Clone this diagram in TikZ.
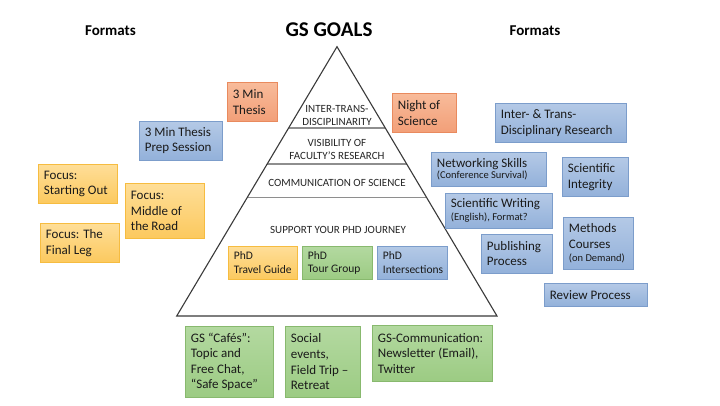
\documentclass[tikz,border=0pt]{standalone}
\usepackage{fontspec}
\setmainfont{Carlito}
\usetikzlibrary{calc}
\definecolor{oT}{HTML}{FEDE98}
\definecolor{oB}{HTML}{FCC95E}
\definecolor{oD}{HTML}{F6BC40}
\definecolor{gT}{HTML}{B3D9A0}
\definecolor{gB}{HTML}{9CCB83}
\definecolor{gD}{HTML}{88B96E}
\definecolor{bT}{HTML}{B4C9E6}
\definecolor{bB}{HTML}{93B1DA}
\definecolor{bD}{HTML}{7C9DCB}
\definecolor{sT}{HTML}{F8BB9A}
\definecolor{sB}{HTML}{F29F78}
\definecolor{sD}{HTML}{E98A5E}
\definecolor{txt}{HTML}{1A1A1A}
\definecolor{pyr}{HTML}{3A3A3A}
\definecolor{lvltxt}{HTML}{262626}
\definecolor{div}{HTML}{8E8E8E}
\tikzset{
  bx/.style={draw, line width=0.8pt, anchor=north west, align=flush left,
    inner xsep=5.5pt, inner ysep=0pt, text=txt,
    font=\fontsize{13}{15.6}\selectfont},
  sz/.style 2 args={minimum width=#1pt, text width=\dimexpr#1pt-11pt\relax, minimum height=#2pt},
  obox/.style={bx, draw=oD, top color=oT, bottom color=oB},
  gbox/.style={bx, draw=gD, top color=gT, bottom color=gB},
  bbox/.style={bx, draw=bD, top color=bT, bottom color=bB},
  sbox/.style={bx, draw=sD, top color=sT, bottom color=sB},
  small/.style={font=\fontsize{11.5}{13.8}\selectfont},
  lvl/.style={align=center, text=lvltxt, inner sep=0pt, font=\fontsize{11}{13.2}\selectfont},
  ttl/.style={inner sep=0pt, font=\bfseries\fontsize{15}{18}\selectfont},
}
\newcommand{\smtxt}[1]{{\fontsize{10.5}{12}\selectfont #1}}
\begin{document}
\begin{tikzpicture}[x=1pt,y=-1pt]
\useasboundingbox[fill=white] (0,0) rectangle (720,405);
% titles
\node[ttl] (fl) at (110.5,31) {Formats};
\node[ttl] (fr) at (535,31) {Formats};
\node[inner sep=0pt, font=\bfseries\fontsize{21}{24}\selectfont] (goals) at (329,30) {GS GOALS};
% pyramid
\coordinate (A) at (337,46.7);
\coordinate (BL) at (176.7,316);
\coordinate (BR) at (497,316);
\draw[div, line width=1.6pt] ($(A)!0.302!(BL)$) -- ($(A)!0.302!(BR)$);
\draw[div, line width=1.6pt] ($(A)!0.4355!(BL)$) -- ($(A)!0.4355!(BR)$);
\draw[div, line width=1.6pt] ($(A)!0.5600!(BL)$) -- ($(A)!0.5600!(BR)$);
\draw[pyr, line width=1.1pt, line join=miter] (A) -- (BL) -- (BR) -- cycle;
\node[lvl] (l1) at (337,115.5) {INTER-TRANS-\\DISCIPLINARITY};
\node[lvl] (l2) at (337,149.5) {VISIBILITY OF\\FACULTY'S RESEARCH};
\node[lvl] (l3) at (337,183) {COMMUNICATION OF SCIENCE};
\node[lvl] (l4) at (338,230) {SUPPORT YOUR PHD JOURNEY};
% inner boxes
\node[obox, small, sz={69}{33}] (travel) at (228,246) {PhD\\\mbox{Travel Guide}};
\node[gbox, small, sz={70}{33}] (tour) at (302,246) {PhD\\\mbox{Tour Group}};
\node[bbox, small, sz={70}{33}] (inters) at (377,246) {PhD\\\mbox{Intersections}};
% left boxes
\node[sbox, sz={50}{39}] (thesis) at (227,82) {3 Min\\Thesis};
\node[bbox, sz={83}{38.5}] (prep) at (139,121) {3 Min Thesis\\Prep Session};
\node[obox, sz={79}{39}] (fstart) at (38,164) {Focus:\\Starting Out};
\node[obox, sz={79}{55}] (fmid) at (125,183) {Focus:\\Middle of\\the Road};
\node[obox, sz={79}{39}] (ffinal) at (40,223) {Focus: The\\Final Leg};
% right boxes
\node[sbox, sz={64}{39}] (night) at (392,93) {Night of\\Science};
\node[bbox, sz={131}{39}] (inter) at (495,103) {Inter- \& Trans-\\\mbox{Disciplinary Research}};
\node[bbox, sz={115}{34}] (network) at (431,152) {\mbox{Networking Skills}\\[-4pt]\smtxt{\mbox{(Conference Survival)}}};
\node[bbox, sz={66}{39}] (integ) at (562,157) {Scientific\\Integrity};
\node[bbox, sz={107}{34.5}] (writing) at (445,193) {\mbox{Scientific Writing}\\[-3pt]\smtxt{\mbox{(English), Format?}}};
\node[bbox, sz={71}{38.5}] (publish) at (481,234) {Publishing\\Process};
\node[bbox, sz={70}{52}] (methods) at (563,217) {Methods\\Courses\\[-2pt]\smtxt{\mbox{(on Demand)}}};
\node[bbox, sz={103}{23}] (review) at (544,283) {Review Process};
% bottom boxes
\node[gbox, sz={88}{71}] (cafes) at (185,326) {GS “Cafés”:\\Topic and\\Free Chat,\\“Safe Space”};
\node[gbox, sz={75}{71}] (social) at (285,326) {Social\\events,\\Field Trip –\\Retreat};
\node[gbox, sz={120}{56}] (gscomm) at (372,325) {\mbox{GS-Communication:}\\\mbox{Newsletter (Email),}\\Twitter};
\end{tikzpicture}
\end{document}
